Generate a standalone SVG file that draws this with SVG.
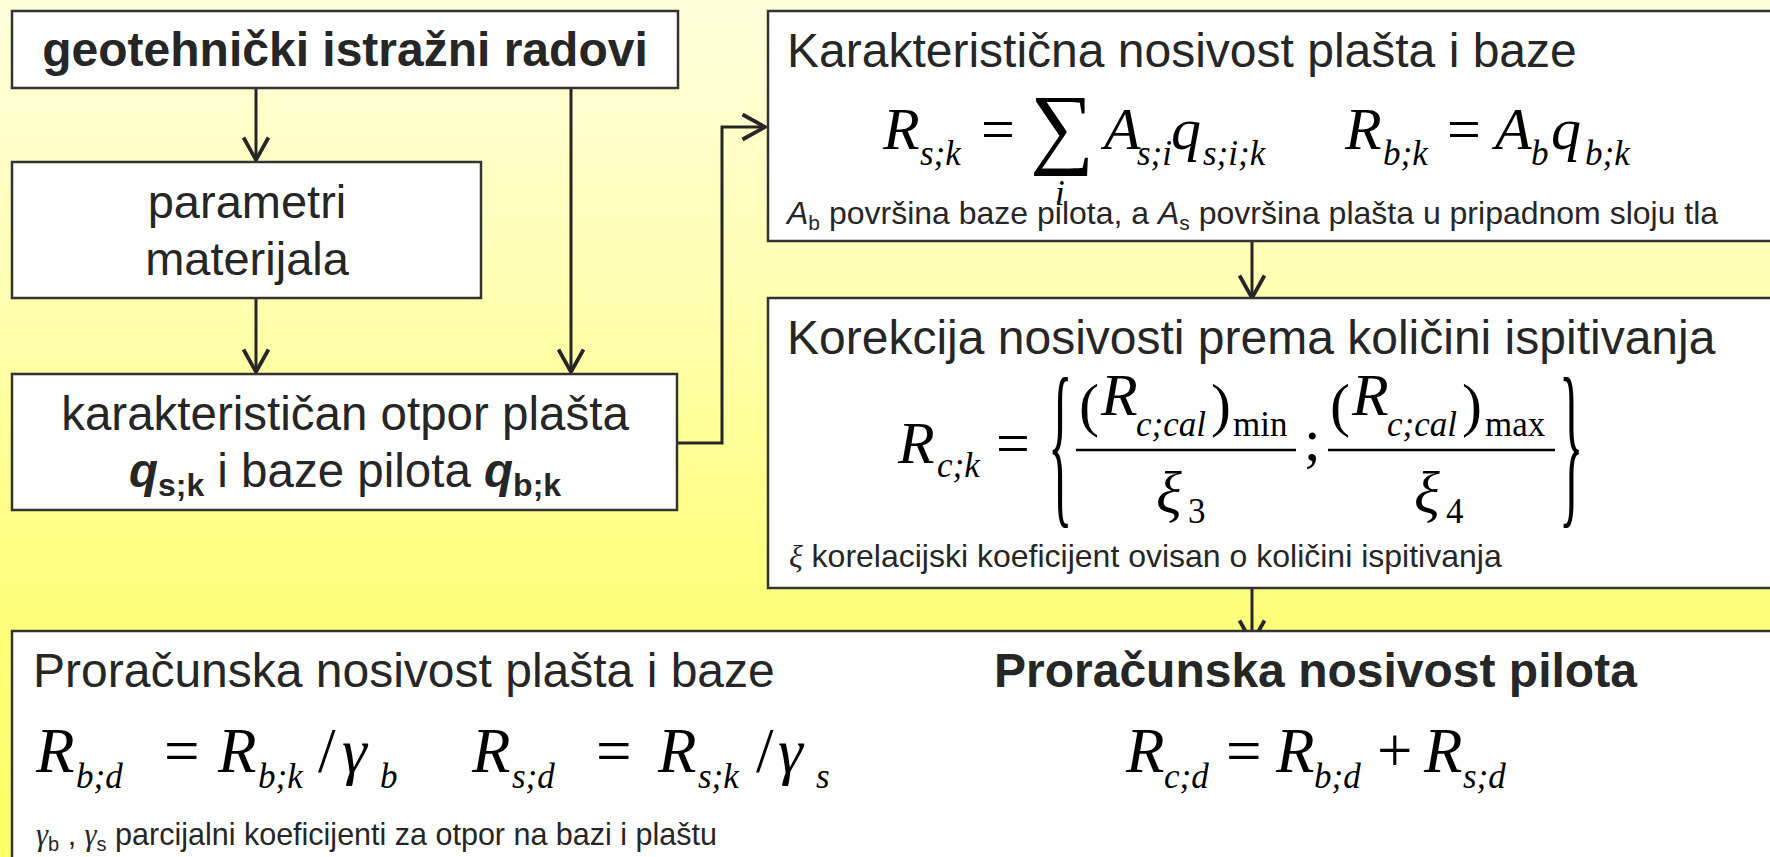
<svg xmlns="http://www.w3.org/2000/svg" width="1770" height="857" viewBox="0 0 1770 857">
<defs>
<linearGradient id="bg" x1="0" y1="0" x2="0" y2="1">
<stop offset="0" stop-color="#FFFFDC"/>
<stop offset="0.3" stop-color="#FFFFB8"/>
<stop offset="0.65" stop-color="#FFFF82"/>
<stop offset="1" stop-color="#FFFF66"/>
</linearGradient>
<marker id="ah" markerUnits="userSpaceOnUse" markerWidth="30" markerHeight="30" viewBox="-20 -12 22 24" refX="0" refY="0" orient="auto">
<path d="M-18,-10 L0,0 L-18,10" fill="none" stroke="#262626" stroke-width="3"/>
</marker>
<style>
.box{fill:#fff;stroke:#333;stroke-width:2.5}
.t{font-family:"Liberation Sans",Arial,sans-serif;fill:#262626}
.b{font-weight:bold}
.m{font-family:"Liberation Serif","Times New Roman",serif;font-style:italic;fill:#000;font-size:60px}
.m2{font-size:63px}
.u{font-style:normal}
.s{font-size:35px}
.c{fill:none;stroke:#262626;stroke-width:3}
</style>
</defs>
<rect width="1770" height="857" fill="url(#bg)"/>

<g id="connectors">
<line class="c" x1="256" y1="88" x2="256" y2="160" marker-end="url(#ah)"/>
<line class="c" x1="256" y1="298" x2="256" y2="372" marker-end="url(#ah)"/>
<line class="c" x1="571" y1="88" x2="571" y2="372" marker-end="url(#ah)"/>
<polyline class="c" points="677,443 722,443 722,127 765,127" marker-end="url(#ah)"/>
<line class="c" x1="1252" y1="241" x2="1252" y2="298" marker-end="url(#ah)"/>
<line class="c" x1="1252" y1="588" x2="1252" y2="643" marker-end="url(#ah)"/>
</g>

<g id="n1">
<rect class="box" x="12" y="11" width="666" height="77"/>
<text class="t b" x="345" y="66" font-size="48" text-anchor="middle">geotehnički istražni radovi</text>
</g>

<g id="n2">
<rect class="box" x="12" y="162" width="469" height="136"/>
<text class="t" x="247" y="218" font-size="47" text-anchor="middle">parametri</text>
<text class="t" x="247" y="275" font-size="47" text-anchor="middle">materijala</text>
</g>

<g id="n3">
<rect class="box" x="12" y="374" width="665" height="136"/>
<text class="t" x="345" y="430" font-size="47.5" text-anchor="middle">karakterističan otpor plašta</text>
<text class="t" x="345" y="487" font-size="47.5" text-anchor="middle"><tspan font-weight="bold" font-style="italic">q</tspan><tspan font-weight="bold" font-size="32" dy="9">s;k</tspan><tspan dy="-9"> i baze pilota </tspan><tspan font-weight="bold" font-style="italic">q</tspan><tspan font-weight="bold" font-size="32" dy="9">b;k</tspan></text>
</g>

<g id="n4">
<rect class="box" x="768" y="11" width="1010" height="230"/>
<text class="t" x="787" y="67" font-size="48">Karakteristična nosivost plašta i baze</text>
<text class="m"><tspan x="883" y="149">R</tspan><tspan class="s" x="920" y="165">s;k</tspan><tspan class="u" x="981" y="149">=</tspan><tspan class="u" x="1030" y="157" font-size="90">∑</tspan><tspan class="s" x="1055" y="205">i</tspan><tspan x="1104" y="149">A</tspan><tspan class="s" x="1137" y="165">s;i</tspan><tspan x="1171" y="149">q</tspan><tspan class="s" x="1203" y="165">s;i;k</tspan><tspan x="1345" y="149">R</tspan><tspan class="s" x="1383" y="165">b;k</tspan><tspan class="u" x="1447" y="149">=</tspan><tspan x="1495" y="149">A</tspan><tspan class="s" x="1531" y="165">b</tspan><tspan x="1551" y="149">q</tspan><tspan class="s" x="1585" y="165">b;k</tspan></text>
<text class="t" x="787" y="224" font-size="32"><tspan font-style="italic">A</tspan><tspan font-size="21" dy="6">b</tspan><tspan dy="-6"> površina baze pilota, a </tspan><tspan font-style="italic">A</tspan><tspan font-size="21" dy="6">s</tspan><tspan dy="-6"> površina plašta u pripadnom sloju tla</tspan></text>
</g>

<g id="n5">
<rect class="box" x="768" y="298" width="1010" height="290"/>
<text class="t" x="787" y="354" font-size="48">Korekcija nosivosti prema količini ispitivanja</text>
<text class="m"><tspan x="898" y="463">R</tspan><tspan class="s" x="937" y="477">c;k</tspan><tspan class="u" x="996" y="463">=</tspan><tspan class="u" x="1079" y="425">(</tspan><tspan x="1101" y="415">R</tspan><tspan class="s" x="1136" y="436">c;cal</tspan><tspan class="u" x="1211" y="425">)</tspan><tspan class="u s" x="1233" y="436">min</tspan><tspan class="u" x="1304" y="460">;</tspan><tspan class="u" x="1330" y="425">(</tspan><tspan x="1352" y="415">R</tspan><tspan class="s" x="1387" y="436">c;cal</tspan><tspan class="u" x="1462" y="425">)</tspan><tspan class="u s" x="1485" y="436">max</tspan><tspan x="1156" y="513">ξ</tspan><tspan class="u s" x="1188" y="523">3</tspan><tspan x="1414" y="513">ξ</tspan><tspan class="u s" x="1446" y="523">4</tspan></text>
<line x1="1076" y1="450" x2="1296" y2="450" stroke="#000" stroke-width="2.5"/>
<line x1="1328" y1="450" x2="1555" y2="450" stroke="#000" stroke-width="2.5"/>
<text class="m u" transform="translate(1048,504) scale(0.85,3.04)">{</text>
<text class="m u" transform="translate(1559,504) scale(0.85,3.04)">}</text>
<text class="t" x="789" y="567" font-size="32"><tspan font-family="Liberation Serif,serif" font-style="italic">ξ</tspan> korelacijski koeficijent ovisan o količini ispitivanja</text>
</g>

<g id="n6">
<rect class="box" x="12" y="631" width="1770" height="240"/>
<text class="t" x="33" y="687" font-size="48">Proračunska nosivost plašta i baze</text>
<text class="t b" x="994" y="687" font-size="48">Proračunska nosivost pilota</text>
<text class="m m2"><tspan x="36" y="772">R</tspan><tspan class="s" x="76" y="788">b;d</tspan><tspan class="u" x="164" y="772">=</tspan><tspan x="218" y="772">R</tspan><tspan class="s" x="258" y="788">b;k</tspan><tspan class="u" x="318" y="772">/</tspan><tspan x="342" y="772">γ</tspan><tspan class="s" x="380" y="788">b</tspan><tspan x="472" y="772">R</tspan><tspan class="s" x="512" y="788">s;d</tspan><tspan class="u" x="596" y="772">=</tspan><tspan x="658" y="772">R</tspan><tspan class="s" x="698" y="788">s;k</tspan><tspan class="u" x="756" y="772">/</tspan><tspan x="778" y="772">γ</tspan><tspan class="s" x="816" y="788">s</tspan><tspan x="1126" y="772">R</tspan><tspan class="s" x="1164" y="788">c;d</tspan><tspan class="u" x="1226" y="772">=</tspan><tspan x="1276" y="772">R</tspan><tspan class="s" x="1314" y="788">b;d</tspan><tspan class="u" x="1377" y="772">+</tspan><tspan x="1424" y="772">R</tspan><tspan class="s" x="1463" y="788">s;d</tspan></text>
<text class="t" x="36" y="845" font-size="30.5"><tspan font-family="Liberation Serif,serif" font-style="italic">γ</tspan><tspan font-size="20" dy="6">b</tspan><tspan dy="-6"> , </tspan><tspan font-family="Liberation Serif,serif" font-style="italic">γ</tspan><tspan font-size="20" dy="6">s</tspan><tspan dy="-6"> parcijalni koeficijenti za otpor na bazi i plaštu</tspan></text>
</g>
</svg>
